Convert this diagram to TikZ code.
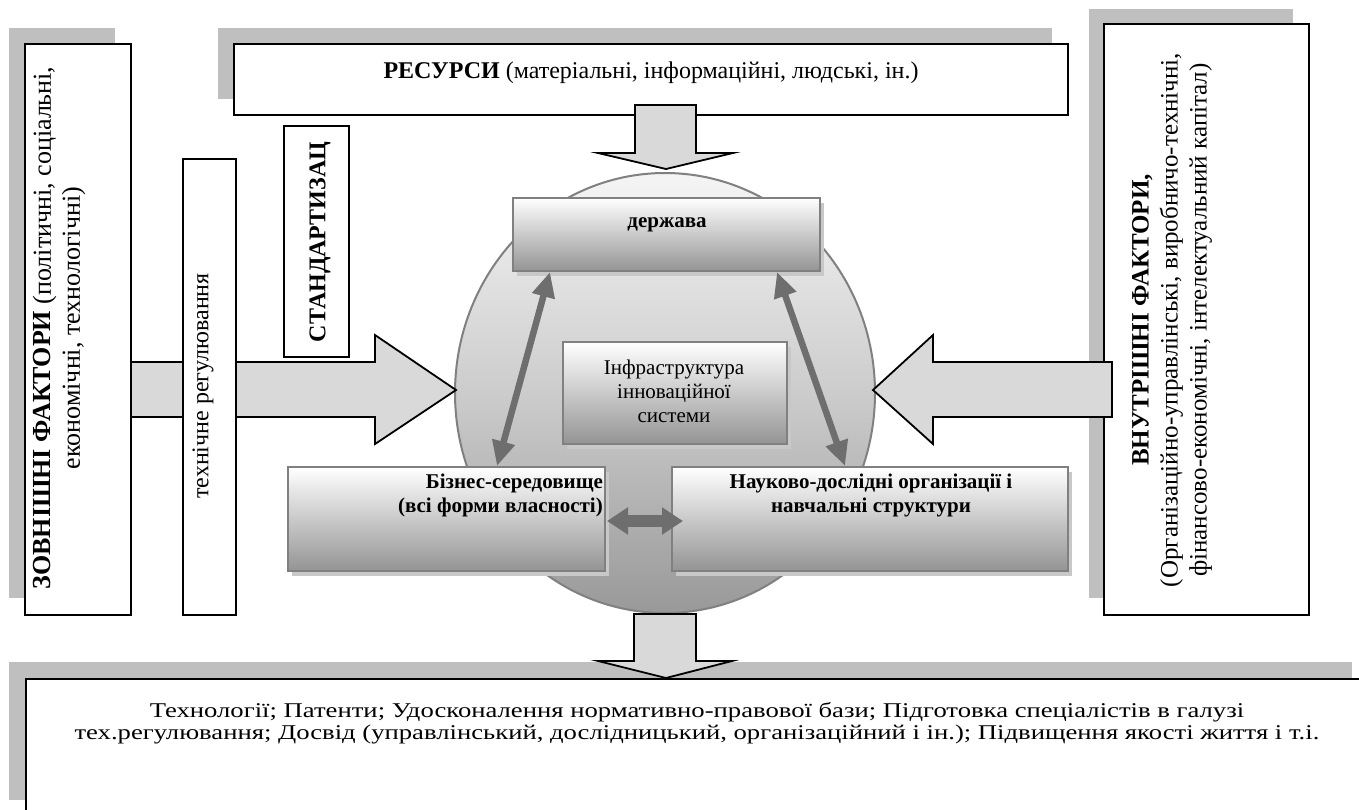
\documentclass[tikz,border=0pt]{standalone}
\usepackage{fontspec}
\setmainfont{Liberation Serif}
\newfontfamily\widefont[FakeStretch=1.27]{Liberation Serif}
\usetikzlibrary{arrows.meta}
\definecolor{shd}{HTML}{BFBFBF}
\definecolor{arrfill}{HTML}{D9D9D9}
\definecolor{dgray}{HTML}{6E6E6E}
\definecolor{bord}{HTML}{808080}
\definecolor{softshd}{HTML}{C8C8C8}
\begin{document}
\begin{tikzpicture}[x=1pt,y=-1pt,
  blackbox/.style={draw=black, line width=2pt, fill=white, inner sep=0pt},
  gradbox/.style={draw=bord, line width=2pt, top color=white, bottom color=black!42, inner sep=0pt},
  blockarrow/.style={draw=black, line width=1.8pt, fill=arrfill, line join=miter},
  dblarrow/.style={draw=dgray, fill=dgray, line width=6.5pt, {Triangle[length=25pt,width=22pt]}-{Triangle[length=25pt,width=22pt]}},
  hdblarrow/.style={draw=dgray, fill=dgray, line width=12pt, {Triangle[length=21pt,width=26pt]}-{Triangle[length=21pt,width=26pt]}},
  txt/.style={inner sep=0pt, align=center},
]
\useasboundingbox (0,0) rectangle (1359,809);

% shadows of outer boxes
\fill[shd] (9,28) rectangle (115,598);
\fill[shd] (218,28) rectangle (1052,99);
\fill[shd] (1089,9) rectangle (1293,598);
\fill[shd] (9,662) rectangle (1352,800);

% outer boxes
\node[blackbox, minimum width=106, minimum height=571] (L) at (78,329.5) {};
\node[blackbox, minimum width=834, minimum height=71] (R) at (651,79.5) {};
\node[blackbox, minimum width=205, minimum height=591] (I) at (1206.5,319.5) {};
\begin{scope}
  \clip (0,0) rectangle (1359,809);
  \node[blackbox, minimum width=1343, minimum height=160, anchor=north west] (O) at (25,678) {};
\end{scope}

% circle
\shade[top color=white!96!black, bottom color=black!40, middle color=black!20] (665,393) ellipse [x radius=210, y radius=220];
\draw[bord, line width=2pt] (665,393) ellipse [x radius=210, y radius=220];

% left block arrow
\draw[blockarrow] (131,362) -- (375,362) -- (375,335) -- (456,390) -- (375,444) -- (375,417) -- (131,417) -- cycle;

% technical regulation and standardisation boxes
\node[blackbox, minimum width=53, minimum height=456] (T) at (209.5,387) {};
\node[blackbox, minimum width=65, minimum height=231] (S) at (316.5,241.5) {};

% right block arrow
\draw[blockarrow] (1112,362) -- (933,362) -- (933,335) -- (873,390) -- (933,444) -- (933,417) -- (1112,417) -- cycle;

% resources down arrow
\draw[blockarrow] (635,105) -- (696,105) -- (696,153) -- (733,153) -- (666,169) -- (598,153) -- (635,153) -- cycle;
% output down arrow
\draw[blockarrow] (634,614) -- (696,614) -- (696,661) -- (732,661) -- (666,678) -- (598,661) -- (634,661) -- cycle;

% inner boxes with soft shadows
\fill[softshd] (517,203) rectangle (824,276);
\fill[softshd] (567,347) rectangle (791,449);
\fill[softshd] (292,472) rectangle (609,576);
\fill[softshd] (676,472) rectangle (1072,576);
\node[gradbox, minimum width=307, minimum height=73] (D) at (666.5,234.5) {};
\node[gradbox, minimum width=224, minimum height=102] (F) at (675,393) {};
\node[gradbox, minimum width=317, minimum height=104] (B) at (446.5,519) {};
\node[gradbox, minimum width=396, minimum height=104] (N) at (870,519) {};

% double arrows
\coordinate (d1) at (550,272);
\coordinate (b1) at (497,466);
\coordinate (d2) at (777,272);
\coordinate (n1) at (845,466);
\coordinate (b2) at (607,521);
\coordinate (n2) at (683,521);
\draw[dblarrow] (d1) -- (b1);
\draw[dblarrow] (d2) -- (n1);
\draw[hdblarrow] (b2) -- (n2);

% texts
\node[txt, rotate=90, font={\fontsize{26}{29}\selectfont}] (tL) at (59,328)
  {\textbf{ЗОВНІШНІ ФАКТОРИ} (політичні, соціальні,\\економічні, технологічні)};
\node[txt, font={\fontsize{24}{28}\selectfont}] (tR) at (651,73)
  {\textbf{РЕСУРСИ} (матеріальні, інформаційні, людські, ін.)};
\node[txt, rotate=90, font={\fontsize{24}{28}\selectfont}] (tT) at (203,386) {технічне регулювання};
\node[txt, rotate=90, font={\fontsize{24}{28}\selectfont\bfseries}] (tS) at (320,242) {СТАНДАРТИЗАЦ};
\node[txt, rotate=90, font={\fontsize{25}{29}\selectfont}] (tI) at (1172,320)
  {\textbf{ВНУТРІШНІ ФАКТОРИ,}\\(Організаційно-управлінські, виробничо-технічні,\\фінансово-економічні, інтелектуальний капітал)};
\node[txt, font={\fontsize{21}{24}\selectfont\bfseries}] (tD) at (667,225) {держава};
\node[txt, font={\fontsize{21}{24}\selectfont}] (tF) at (674,391) {Інфраструктура\\інноваційної\\системи};
\node[txt, align=right, anchor=east, font={\fontsize{21}{24}\selectfont\bfseries}] (tB) at (603,495) {Бізнес-середовище\\(всі форми власності)};
\node[txt, font={\fontsize{21}{24}\selectfont\bfseries}] (tN) at (871,495) {Науково-дослідні організації і\\навчальні структури};
\node[txt, font={\widefont\fontsize{21}{22}\selectfont}] (tO) at (697,723)
  {Технології; Патенти; Удосконалення нормативно-правової бази; Підготовка спеціалістів в галузі\\тех.регулювання; Досвід (управлінський, дослідницький, організаційний і ін.); Підвищення якості життя і т.і.};
\end{tikzpicture}
\end{document}
